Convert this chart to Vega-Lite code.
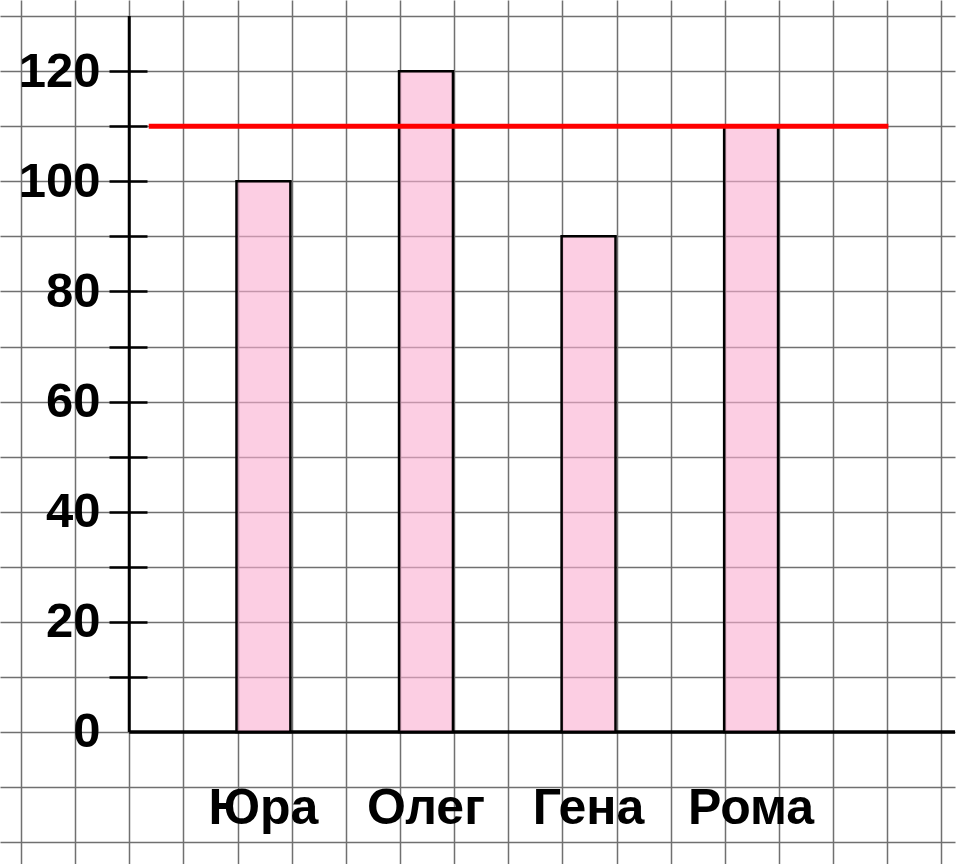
{
  "$schema": "https://vega.github.io/schema/vega-lite/v6.json",
  "width": 957,
  "height": 864,
  "autosize": {"type": "fit", "contains": "padding"},
  "padding": 0,
  "background": "white",
  "config": {"view": {"stroke": null}},
  "layer": [
    {
      "data": {"values": [{}]},
      "layer": [
        {
          "mark": {"type": "rule", "color": "black", "strokeWidth": 3},
          "encoding": {
            "x": {
              "datum": 2, "type": "quantitative",
              "scale": {"domain": [-0.387, 17.25], "nice": false, "zero": false},
              "axis": {"orient": "bottom", "values": [0,1,2,3,4,5,6,7,8,9,10,11,12,13,14,15,16,17], "grid": true, "gridColor": "#707070", "gridWidth": 1.5, "gridOpacity": 1, "labels": false, "ticks": false, "domain": false, "title": null}
            },
            "y": {
              "datum": 0, "type": "quantitative",
              "scale": {"domain": [-23.97, 132.92], "nice": false, "zero": false},
              "axis": {"orient": "left", "values": [-20,-10,0,10,20,30,40,50,60,70,80,90,100,110,120,130], "grid": true, "gridColor": "#707070", "gridWidth": 1.5, "gridOpacity": 1, "labels": false, "ticks": false, "domain": false, "title": null}
            },
            "y2": {"datum": 130}
          }
        },
        {
          "mark": {"type": "rule", "color": "black", "strokeWidth": 3.5},
          "encoding": {
            "x": {"datum": 2, "type": "quantitative"},
            "x2": {"datum": 17.25},
            "y": {"datum": 0, "type": "quantitative"}
          }
        }
      ]
    },
    {
      "data": {"values": [
        {"name": "Юра", "value": 100},
        {"name": "Олег", "value": 120},
        {"name": "Гена", "value": 90},
        {"name": "Рома", "value": 110}
      ]},
      "mark": {"type": "bar", "fill": "#faadd0", "fillOpacity": 0.6, "stroke": "black", "strokeWidth": 2.5, "strokeOpacity": 1, "width": {"band": 0.379}},
      "encoding": {
        "x": {
          "field": "name", "type": "nominal", "sort": null,
          "scale": {"paddingInner": 0.125, "paddingOuter": 1, "align": 0.5916},
          "axis": {"orient": "bottom", "offset": -132, "domain": false, "ticks": false, "labelAngle": 0, "labelPadding": 51, "labelFont": "Liberation Sans", "labelFontWeight": "bold", "labelFontSize": 50, "labelColor": "black", "title": null, "grid": false}
        },
        "y": {
          "field": "value", "type": "quantitative",
          "scale": {"domain": [-23.97, 132.92], "nice": false, "zero": false},
          "axis": {
            "orient": "left", "offset": -147, "domain": false, "grid": false,
            "values": [0,10,20,30,40,50,60,70,80,90,100,110,120],
            "tickSize": 38, "tickWidth": 2.5,
            "tickColor": {"condition": {"test": "datum.value === 0", "value": "transparent"}, "value": "black"},
            "labelExpr": "datum.value % 20 === 0 ? datum.label : ''",
            "labelPadding": 9, "labelFont": "Liberation Sans", "labelFontWeight": "bold", "labelFontSize": 49, "labelColor": "black", "title": null
          }
        },
        "y2": {"datum": 0}
      }
    },
    {
      "data": {"values": [{}]},
      "mark": {"type": "rule", "color": "#ff0000", "strokeWidth": 5},
      "encoding": {
        "x": {"datum": 2.36, "type": "quantitative", "scale": {"domain": [-0.387, 17.25], "nice": false, "zero": false}, "axis": null},
        "x2": {"datum": 16.02},
        "y": {"datum": 110, "type": "quantitative", "scale": {"domain": [-23.97, 132.92], "nice": false, "zero": false}, "axis": null}
      }
    }
  ],
  "resolve": {
    "scale": {"x": "independent", "y": "shared"},
    "axis": {"x": "independent", "y": "independent"}
  }
}
